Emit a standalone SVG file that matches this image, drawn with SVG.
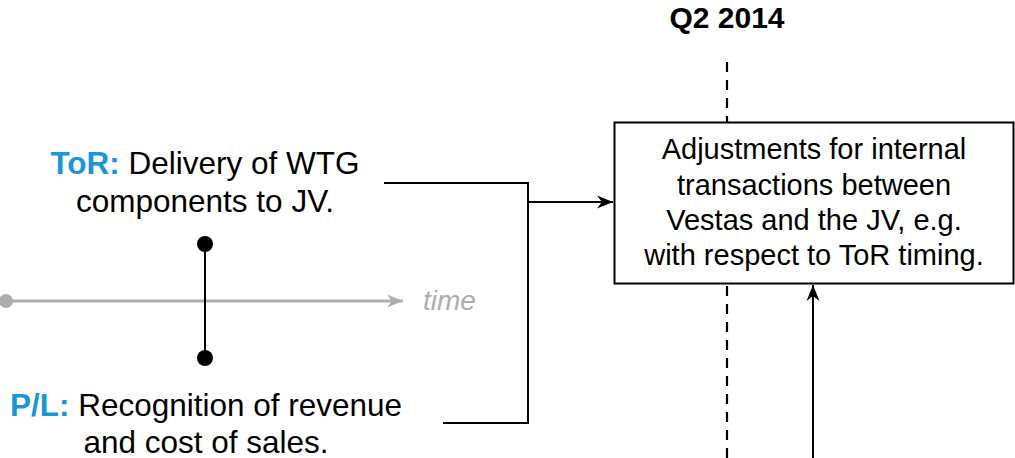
<svg xmlns="http://www.w3.org/2000/svg" width="1015" height="458" viewBox="0 0 1015 458">
<style>
text{font-family:"Liberation Sans",Arial,sans-serif;}
.lbl{font-size:31.5px;fill:#000;text-anchor:middle;}
.blue{fill:#1A96D4;font-weight:bold;}
.box{font-size:29px;fill:#000;text-anchor:middle;}
.conn{fill:none;stroke:#000;stroke-width:2;}
</style>
<defs>
<marker id="ah" markerWidth="16" markerHeight="14" viewBox="-16 -7 16 14" refX="0" refY="0" orient="auto" markerUnits="userSpaceOnUse">
<path d="M0,0 L-16,-6.5 L-11,0 L-16,6.5 Z" fill="#000"/>
</marker>
<marker id="ahg" markerWidth="16" markerHeight="14" viewBox="-16 -7 16 14" refX="0" refY="0" orient="auto" markerUnits="userSpaceOnUse">
<path d="M0,0 L-16,-6.5 L-11,0 L-16,6.5 Z" fill="#ADADAD"/>
</marker>
</defs>
<rect width="1015" height="458" fill="#fff"/>

<g id="quarter">
<text x="727" y="28" style="font-size:30px;font-weight:bold;text-anchor:middle">Q2 2014</text>
<line x1="727" y1="62" x2="727" y2="122" stroke="#000" stroke-width="2.2" stroke-dasharray="10 8"/>
<line x1="727" y1="286" x2="727" y2="458" stroke="#000" stroke-width="2.2" stroke-dasharray="10 8"/>
</g>

<g id="timeline">
<line x1="6" y1="301" x2="403" y2="301" stroke="#ADADAD" stroke-width="3" marker-end="url(#ahg)"/>
<circle cx="6" cy="301" r="7" fill="#ADADAD"/>
<text x="423" y="310" style="font-size:28px;font-style:italic;fill:#ADADAD">time</text>
</g>

<g id="event">
<line x1="205" y1="244" x2="205" y2="358" stroke="#000" stroke-width="2"/>
<circle cx="205" cy="244" r="8" fill="#000"/>
<circle cx="205" cy="358" r="8" fill="#000"/>
</g>

<g id="tor">
<text class="lbl" x="205" y="174"><tspan class="blue">ToR:</tspan> Delivery of WTG</text>
<text class="lbl" x="205" y="212">components to JV.</text>
</g>

<g id="pl">
<text class="lbl" x="206" y="416"><tspan class="blue">P/L:</tspan> Recognition of revenue</text>
<text class="lbl" x="206" y="453">and cost of sales.</text>
</g>

<g id="adjust">
<rect x="614.5" y="122.5" width="399" height="161" fill="#fff" stroke="#000" stroke-width="2"/>
<text class="box" x="814" y="159">Adjustments for internal</text>
<text class="box" x="814" y="195">transactions between</text>
<text class="box" x="814" y="230">Vestas and the JV, e.g.</text>
<text class="box" x="814" y="265">with respect to ToR timing.</text>
</g>

<g id="connectors">
<polyline class="conn" points="384,183 528,183 528,423 443,423"/>
<line class="conn" x1="528" y1="202" x2="613" y2="202" marker-end="url(#ah)"/>
<line class="conn" x1="813" y1="458" x2="813" y2="285" marker-end="url(#ah)"/>
</g>
</svg>
